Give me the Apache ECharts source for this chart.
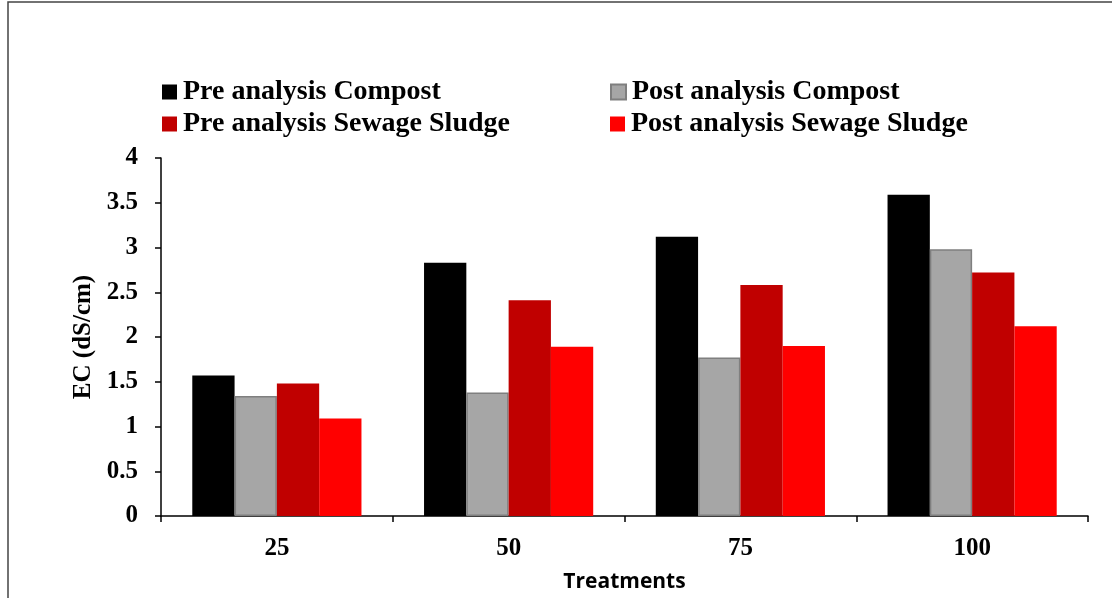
<!DOCTYPE html>
<html>
<head>
<meta charset="utf-8">
<script src="https://cdn.jsdelivr.net/npm/echarts@6/dist/echarts.min.js"></script>
<style>
  html, body { margin: 0; padding: 0; background: #fff; }
  #chart { width: 1112px; height: 598px; }
</style>
</head>
<body>
<div id="chart"></div>
<script>
// Treatment levels on the x axis
const treatments = ['25', '50', '75', '100'];

// EC (dS/cm) per treatment
const preCompost = [1.57, 2.83, 3.12, 3.59];
const postCompost = [1.34, 1.38, 1.77, 2.98];
const preSludge = [1.48, 2.41, 2.58, 2.72];
const postSludge = [1.09, 1.89, 1.90, 2.12];

const seriesNames = [
  'Pre analysis Compost',
  'Post analysis Compost',
  'Pre analysis Sewage Sludge',
  'Post analysis Sewage Sludge'
];

const yTicks = [0, 0.5, 1, 1.5, 2, 2.5, 3, 3.5, 4];

const serif = '"Liberation Serif", "Times New Roman", serif';
const colors = ['#000000', '#a6a6a6', '#c00000', '#ff0000'];

const chart = echarts.init(document.getElementById('chart'), null, { renderer: 'canvas' });

function legendAt(name, left, top) {
  return {
    data: [name],
    left: left,
    top: top,
    padding: 0,
    itemWidth: 15,
    itemHeight: 15,
    itemGap: 0,
    icon: 'rect',
    selectedMode: false,
    textStyle: { fontFamily: serif, fontWeight: 'bold', fontSize: 28, color: '#000', lineHeight: 30, padding: [0, 0, 0, 1] }
  };
}

chart.setOption({
  animation: false,
  backgroundColor: '#ffffff',
  color: colors,
  graphic: [{
    type: 'rect',
    shape: { x: 8, y: 2, width: 1300, height: 800 },
    style: { fill: 'none', stroke: '#444', lineWidth: 1.5 },
    silent: true
  }],
  legend: [
    legendAt(seriesNames[0], 162, 77),
    legendAt(seriesNames[1], 610, 77),
    legendAt(seriesNames[2], 162, 109),
    legendAt(seriesNames[3], 610, 109)
  ],
  grid: { left: 161, right: 24, top: 158, bottom: 82, outerBoundsMode: 'none', containLabel: false },
  xAxis: {
    type: 'category',
    data: treatments,
    name: 'Treatments',
    nameLocation: 'middle',
    nameGap: 56,
    nameTextStyle: { fontFamily: '"Open Sans", "Liberation Sans", sans-serif', fontWeight: 'bold', fontSize: 21, color: '#000' },
    axisLine: { lineStyle: { color: '#000', width: 1.5 } },
    axisTick: { show: true, length: 6, inside: false, lineStyle: { color: '#000', width: 1.5 } },
    axisLabel: { fontFamily: serif, fontWeight: 'bold', fontSize: 25, color: '#000', margin: 20 }
  },
  yAxis: {
    type: 'value',
    min: 0,
    max: 4,
    interval: 0.5,
    name: 'EC (dS/cm)',
    nameLocation: 'middle',
    nameGap: 65,
    nameRotate: 90,
    nameTextStyle: { fontFamily: serif, fontWeight: 'bold', fontSize: 25, color: '#000' },
    axisLine: { show: true, lineStyle: { color: '#000', width: 1.5 } },
    axisTick: { show: true, length: 6, lineStyle: { color: '#000', width: 1.5 } },
    splitLine: { show: false },
    axisLabel: {
      fontFamily: serif, fontWeight: 'bold', fontSize: 25, color: '#000', margin: 23,
      formatter: v => (yTicks.indexOf(v) >= 0 ? String(v) : '')
    }
  },
  series: [
    { name: seriesNames[0], type: 'bar', data: preCompost, barGap: '0%', barCategoryGap: '27%',
      itemStyle: { color: colors[0] } },
    { name: seriesNames[1], type: 'bar', data: postCompost, barGap: '0%', barCategoryGap: '27%',
      itemStyle: { color: colors[1], borderColor: '#7f7f7f', borderWidth: 1.5 } },
    { name: seriesNames[2], type: 'bar', data: preSludge, barGap: '0%', barCategoryGap: '27%',
      itemStyle: { color: colors[2] } },
    { name: seriesNames[3], type: 'bar', data: postSludge, barGap: '0%', barCategoryGap: '27%',
      itemStyle: { color: colors[3] } }
  ]
});
</script>
</body>
</html>
